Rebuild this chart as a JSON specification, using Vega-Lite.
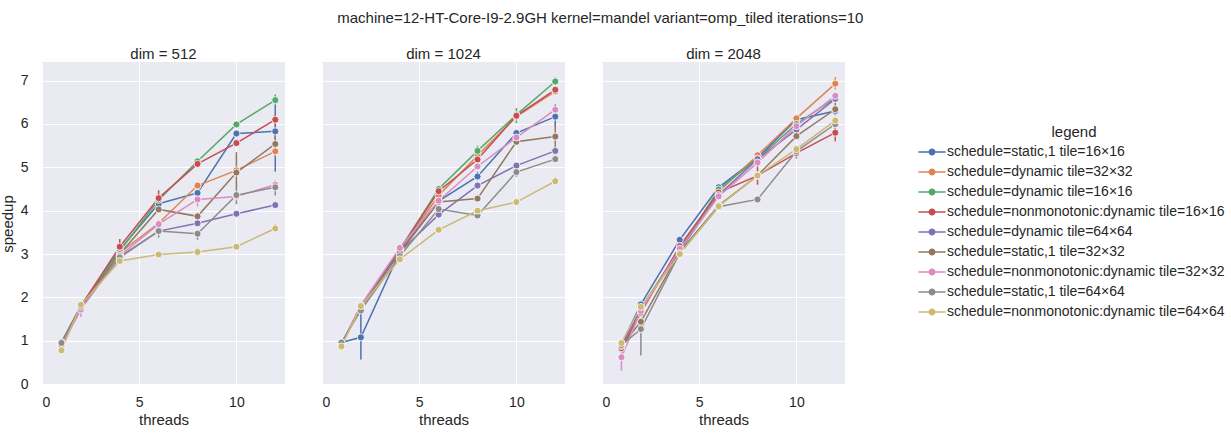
{
  "$schema": "https://vega.github.io/schema/vega-lite/v6.json",
  "autosize": "none",
  "padding": {"left": 42, "top": 62, "right": 1189, "bottom": 371},
  "background": "white",
  "title": {"text": "machine=12-HT-Core-I9-2.9GH kernel=mandel variant=omp_tiled iterations=10", "fontSize": 15, "fontWeight": "normal", "font": "Liberation Sans", "color": "#262626", "anchor": "start", "frame": "bounds", "dx": 337, "offset": 21},
  "datasets": {
    "series": [
      {"k": "A", "legend": "schedule=static,1 tile=16×16"},
      {"k": "B", "legend": "schedule=dynamic tile=32×32"},
      {"k": "C", "legend": "schedule=dynamic tile=16×16"},
      {"k": "D", "legend": "schedule=nonmonotonic:dynamic tile=16×16"},
      {"k": "E", "legend": "schedule=dynamic tile=64×64"},
      {"k": "F", "legend": "schedule=static,1 tile=32×32"},
      {"k": "G", "legend": "schedule=nonmonotonic:dynamic tile=32×32"},
      {"k": "H", "legend": "schedule=static,1 tile=64×64"},
      {"k": "I", "legend": "schedule=nonmonotonic:dynamic tile=64×64"}
    ],
    "pts": [
      {"dim":512,"threads":1,"k":"A","speedup":0.95,"lo":0.9,"hi":1.0},
      {"dim":512,"threads":2,"k":"A","speedup":1.80,"lo":1.75,"hi":1.85},
      {"dim":512,"threads":4,"k":"A","speedup":3.10,"lo":3.05,"hi":3.15},
      {"dim":512,"threads":6,"k":"A","speedup":4.16,"lo":4.1,"hi":4.22},
      {"dim":512,"threads":8,"k":"A","speedup":4.41,"lo":4.35,"hi":4.47},
      {"dim":512,"threads":10,"k":"A","speedup":5.78,"lo":5.7,"hi":5.85},
      {"dim":512,"threads":12,"k":"A","speedup":5.83,"lo":4.9,"hi":6.45},
      {"dim":512,"threads":1,"k":"B","speedup":0.90,"lo":0.85,"hi":0.95},
      {"dim":512,"threads":2,"k":"B","speedup":1.80,"lo":1.75,"hi":1.85},
      {"dim":512,"threads":4,"k":"B","speedup":3.03,"lo":2.98,"hi":3.08},
      {"dim":512,"threads":6,"k":"B","speedup":3.71,"lo":3.66,"hi":3.76},
      {"dim":512,"threads":8,"k":"B","speedup":4.58,"lo":4.53,"hi":4.63},
      {"dim":512,"threads":10,"k":"B","speedup":4.93,"lo":4.85,"hi":5.0},
      {"dim":512,"threads":12,"k":"B","speedup":5.37,"lo":5.25,"hi":5.45},
      {"dim":512,"threads":1,"k":"C","speedup":0.90,"lo":0.85,"hi":0.95},
      {"dim":512,"threads":2,"k":"C","speedup":1.81,"lo":1.76,"hi":1.86},
      {"dim":512,"threads":4,"k":"C","speedup":3.07,"lo":3.02,"hi":3.12},
      {"dim":512,"threads":6,"k":"C","speedup":4.25,"lo":4.2,"hi":4.3},
      {"dim":512,"threads":8,"k":"C","speedup":5.14,"lo":5.08,"hi":5.2},
      {"dim":512,"threads":10,"k":"C","speedup":5.99,"lo":5.93,"hi":6.05},
      {"dim":512,"threads":12,"k":"C","speedup":6.55,"lo":6.45,"hi":6.68},
      {"dim":512,"threads":1,"k":"D","speedup":0.93,"lo":0.88,"hi":0.98},
      {"dim":512,"threads":2,"k":"D","speedup":1.80,"lo":1.75,"hi":1.85},
      {"dim":512,"threads":4,"k":"D","speedup":3.17,"lo":3.05,"hi":3.35},
      {"dim":512,"threads":6,"k":"D","speedup":4.29,"lo":4.1,"hi":4.47},
      {"dim":512,"threads":8,"k":"D","speedup":5.08,"lo":5.03,"hi":5.13},
      {"dim":512,"threads":10,"k":"D","speedup":5.56,"lo":5.51,"hi":5.61},
      {"dim":512,"threads":12,"k":"D","speedup":6.10,"lo":5.95,"hi":6.22},
      {"dim":512,"threads":1,"k":"E","speedup":0.86,"lo":0.81,"hi":0.91},
      {"dim":512,"threads":2,"k":"E","speedup":1.78,"lo":1.73,"hi":1.83},
      {"dim":512,"threads":4,"k":"E","speedup":2.94,"lo":2.89,"hi":2.99},
      {"dim":512,"threads":6,"k":"E","speedup":3.53,"lo":3.48,"hi":3.58},
      {"dim":512,"threads":8,"k":"E","speedup":3.71,"lo":3.66,"hi":3.76},
      {"dim":512,"threads":10,"k":"E","speedup":3.93,"lo":3.88,"hi":3.98},
      {"dim":512,"threads":12,"k":"E","speedup":4.13,"lo":4.08,"hi":4.18},
      {"dim":512,"threads":1,"k":"F","speedup":0.97,"lo":0.92,"hi":1.02},
      {"dim":512,"threads":2,"k":"F","speedup":1.80,"lo":1.75,"hi":1.85},
      {"dim":512,"threads":4,"k":"F","speedup":3.00,"lo":2.95,"hi":3.05},
      {"dim":512,"threads":6,"k":"F","speedup":4.03,"lo":3.95,"hi":4.1},
      {"dim":512,"threads":8,"k":"F","speedup":3.87,"lo":3.82,"hi":3.92},
      {"dim":512,"threads":10,"k":"F","speedup":4.88,"lo":4.5,"hi":5.35},
      {"dim":512,"threads":12,"k":"F","speedup":5.54,"lo":5.3,"hi":5.8},
      {"dim":512,"threads":1,"k":"G","speedup":0.88,"lo":0.83,"hi":0.93},
      {"dim":512,"threads":2,"k":"G","speedup":1.72,"lo":1.55,"hi":1.85},
      {"dim":512,"threads":4,"k":"G","speedup":2.96,"lo":2.91,"hi":3.01},
      {"dim":512,"threads":6,"k":"G","speedup":3.69,"lo":3.6,"hi":3.78},
      {"dim":512,"threads":8,"k":"G","speedup":4.26,"lo":4.1,"hi":4.4},
      {"dim":512,"threads":10,"k":"G","speedup":4.33,"lo":4.28,"hi":4.38},
      {"dim":512,"threads":12,"k":"G","speedup":4.60,"lo":4.5,"hi":4.7},
      {"dim":512,"threads":1,"k":"H","speedup":0.95,"lo":0.9,"hi":1.0},
      {"dim":512,"threads":2,"k":"H","speedup":1.79,"lo":1.74,"hi":1.84},
      {"dim":512,"threads":4,"k":"H","speedup":2.92,"lo":2.87,"hi":2.97},
      {"dim":512,"threads":6,"k":"H","speedup":3.53,"lo":3.38,"hi":3.65},
      {"dim":512,"threads":8,"k":"H","speedup":3.47,"lo":3.33,"hi":3.55},
      {"dim":512,"threads":10,"k":"H","speedup":4.36,"lo":4.15,"hi":4.5},
      {"dim":512,"threads":12,"k":"H","speedup":4.54,"lo":4.35,"hi":4.65},
      {"dim":512,"threads":1,"k":"I","speedup":0.78,"lo":0.73,"hi":0.83},
      {"dim":512,"threads":2,"k":"I","speedup":1.83,"lo":1.78,"hi":1.88},
      {"dim":512,"threads":4,"k":"I","speedup":2.84,"lo":2.79,"hi":2.89},
      {"dim":512,"threads":6,"k":"I","speedup":2.99,"lo":2.94,"hi":3.04},
      {"dim":512,"threads":8,"k":"I","speedup":3.05,"lo":2.95,"hi":3.15},
      {"dim":512,"threads":10,"k":"I","speedup":3.17,"lo":3.12,"hi":3.22},
      {"dim":512,"threads":12,"k":"I","speedup":3.59,"lo":3.5,"hi":3.7},

      {"dim":1024,"threads":1,"k":"A","speedup":0.96,"lo":0.91,"hi":1.01},
      {"dim":1024,"threads":2,"k":"A","speedup":1.08,"lo":0.57,"hi":1.72},
      {"dim":1024,"threads":4,"k":"A","speedup":3.05,"lo":3.0,"hi":3.1},
      {"dim":1024,"threads":6,"k":"A","speedup":4.22,"lo":4.17,"hi":4.27},
      {"dim":1024,"threads":8,"k":"A","speedup":4.79,"lo":4.7,"hi":4.9},
      {"dim":1024,"threads":10,"k":"A","speedup":5.79,"lo":5.72,"hi":5.86},
      {"dim":1024,"threads":12,"k":"A","speedup":6.17,"lo":5.95,"hi":6.45},
      {"dim":1024,"threads":1,"k":"B","speedup":0.92,"lo":0.87,"hi":0.97},
      {"dim":1024,"threads":2,"k":"B","speedup":1.80,"lo":1.75,"hi":1.85},
      {"dim":1024,"threads":4,"k":"B","speedup":3.08,"lo":3.03,"hi":3.13},
      {"dim":1024,"threads":6,"k":"B","speedup":4.35,"lo":4.3,"hi":4.4},
      {"dim":1024,"threads":8,"k":"B","speedup":5.27,"lo":5.22,"hi":5.32},
      {"dim":1024,"threads":10,"k":"B","speedup":6.17,"lo":6.12,"hi":6.22},
      {"dim":1024,"threads":12,"k":"B","speedup":6.75,"lo":6.7,"hi":6.8},
      {"dim":1024,"threads":1,"k":"C","speedup":0.92,"lo":0.87,"hi":0.97},
      {"dim":1024,"threads":2,"k":"C","speedup":1.80,"lo":1.75,"hi":1.85},
      {"dim":1024,"threads":4,"k":"C","speedup":3.10,"lo":3.05,"hi":3.15},
      {"dim":1024,"threads":6,"k":"C","speedup":4.50,"lo":4.45,"hi":4.55},
      {"dim":1024,"threads":8,"k":"C","speedup":5.38,"lo":5.3,"hi":5.5},
      {"dim":1024,"threads":10,"k":"C","speedup":6.21,"lo":6.02,"hi":6.37},
      {"dim":1024,"threads":12,"k":"C","speedup":6.98,"lo":6.9,"hi":7.08},
      {"dim":1024,"threads":1,"k":"D","speedup":0.92,"lo":0.87,"hi":0.97},
      {"dim":1024,"threads":2,"k":"D","speedup":1.80,"lo":1.75,"hi":1.85},
      {"dim":1024,"threads":4,"k":"D","speedup":3.10,"lo":3.05,"hi":3.15},
      {"dim":1024,"threads":6,"k":"D","speedup":4.45,"lo":4.4,"hi":4.5},
      {"dim":1024,"threads":8,"k":"D","speedup":5.18,"lo":5.13,"hi":5.23},
      {"dim":1024,"threads":10,"k":"D","speedup":6.19,"lo":6.14,"hi":6.24},
      {"dim":1024,"threads":12,"k":"D","speedup":6.79,"lo":6.74,"hi":6.84},
      {"dim":1024,"threads":1,"k":"E","speedup":0.92,"lo":0.87,"hi":0.97},
      {"dim":1024,"threads":2,"k":"E","speedup":1.78,"lo":1.73,"hi":1.83},
      {"dim":1024,"threads":4,"k":"E","speedup":3.05,"lo":3.0,"hi":3.1},
      {"dim":1024,"threads":6,"k":"E","speedup":3.91,"lo":3.86,"hi":3.96},
      {"dim":1024,"threads":8,"k":"E","speedup":4.58,"lo":4.53,"hi":4.63},
      {"dim":1024,"threads":10,"k":"E","speedup":5.04,"lo":4.99,"hi":5.09},
      {"dim":1024,"threads":12,"k":"E","speedup":5.38,"lo":5.33,"hi":5.43},
      {"dim":1024,"threads":1,"k":"F","speedup":0.93,"lo":0.88,"hi":0.98},
      {"dim":1024,"threads":2,"k":"F","speedup":1.76,"lo":1.71,"hi":1.81},
      {"dim":1024,"threads":4,"k":"F","speedup":3.03,"lo":2.98,"hi":3.08},
      {"dim":1024,"threads":6,"k":"F","speedup":4.20,"lo":4.15,"hi":4.25},
      {"dim":1024,"threads":8,"k":"F","speedup":4.28,"lo":4.23,"hi":4.33},
      {"dim":1024,"threads":10,"k":"F","speedup":5.59,"lo":5.54,"hi":5.64},
      {"dim":1024,"threads":12,"k":"F","speedup":5.71,"lo":5.4,"hi":6.0},
      {"dim":1024,"threads":1,"k":"G","speedup":0.92,"lo":0.87,"hi":0.97},
      {"dim":1024,"threads":2,"k":"G","speedup":1.82,"lo":1.77,"hi":1.87},
      {"dim":1024,"threads":4,"k":"G","speedup":3.14,"lo":3.09,"hi":3.19},
      {"dim":1024,"threads":6,"k":"G","speedup":4.23,"lo":4.18,"hi":4.28},
      {"dim":1024,"threads":8,"k":"G","speedup":5.02,"lo":4.97,"hi":5.07},
      {"dim":1024,"threads":10,"k":"G","speedup":5.69,"lo":5.64,"hi":5.74},
      {"dim":1024,"threads":12,"k":"G","speedup":6.33,"lo":6.28,"hi":6.38},
      {"dim":1024,"threads":1,"k":"H","speedup":0.96,"lo":0.91,"hi":1.01},
      {"dim":1024,"threads":2,"k":"H","speedup":1.70,"lo":1.6,"hi":1.8},
      {"dim":1024,"threads":4,"k":"H","speedup":2.95,"lo":2.9,"hi":3.0},
      {"dim":1024,"threads":6,"k":"H","speedup":4.04,"lo":3.99,"hi":4.09},
      {"dim":1024,"threads":8,"k":"H","speedup":3.89,"lo":3.84,"hi":3.94},
      {"dim":1024,"threads":10,"k":"H","speedup":4.89,"lo":4.78,"hi":4.98},
      {"dim":1024,"threads":12,"k":"H","speedup":5.19,"lo":5.14,"hi":5.24},
      {"dim":1024,"threads":1,"k":"I","speedup":0.87,"lo":0.82,"hi":0.92},
      {"dim":1024,"threads":2,"k":"I","speedup":1.80,"lo":1.75,"hi":1.85},
      {"dim":1024,"threads":4,"k":"I","speedup":2.88,"lo":2.83,"hi":2.93},
      {"dim":1024,"threads":6,"k":"I","speedup":3.56,"lo":3.51,"hi":3.61},
      {"dim":1024,"threads":8,"k":"I","speedup":4.00,"lo":3.95,"hi":4.05},
      {"dim":1024,"threads":10,"k":"I","speedup":4.20,"lo":4.15,"hi":4.25},
      {"dim":1024,"threads":12,"k":"I","speedup":4.68,"lo":4.6,"hi":4.78},

      {"dim":2048,"threads":1,"k":"A","speedup":0.92,"lo":0.87,"hi":0.97},
      {"dim":2048,"threads":2,"k":"A","speedup":1.84,"lo":1.79,"hi":1.89},
      {"dim":2048,"threads":4,"k":"A","speedup":3.33,"lo":3.28,"hi":3.38},
      {"dim":2048,"threads":6,"k":"A","speedup":4.54,"lo":4.49,"hi":4.59},
      {"dim":2048,"threads":8,"k":"A","speedup":5.22,"lo":5.17,"hi":5.27},
      {"dim":2048,"threads":10,"k":"A","speedup":6.10,"lo":6.05,"hi":6.15},
      {"dim":2048,"threads":12,"k":"A","speedup":6.30,"lo":6.25,"hi":6.35},
      {"dim":2048,"threads":1,"k":"B","speedup":0.90,"lo":0.85,"hi":0.95},
      {"dim":2048,"threads":2,"k":"B","speedup":1.75,"lo":1.7,"hi":1.8},
      {"dim":2048,"threads":4,"k":"B","speedup":3.12,"lo":3.07,"hi":3.17},
      {"dim":2048,"threads":6,"k":"B","speedup":4.44,"lo":4.39,"hi":4.49},
      {"dim":2048,"threads":8,"k":"B","speedup":5.28,"lo":5.2,"hi":5.36},
      {"dim":2048,"threads":10,"k":"B","speedup":6.13,"lo":6.08,"hi":6.18},
      {"dim":2048,"threads":12,"k":"B","speedup":6.93,"lo":6.8,"hi":7.08},
      {"dim":2048,"threads":1,"k":"C","speedup":0.90,"lo":0.85,"hi":0.95},
      {"dim":2048,"threads":2,"k":"C","speedup":1.75,"lo":1.7,"hi":1.8},
      {"dim":2048,"threads":4,"k":"C","speedup":3.10,"lo":3.05,"hi":3.15},
      {"dim":2048,"threads":6,"k":"C","speedup":4.49,"lo":4.44,"hi":4.54},
      {"dim":2048,"threads":8,"k":"C","speedup":5.20,"lo":5.15,"hi":5.25},
      {"dim":2048,"threads":10,"k":"C","speedup":6.00,"lo":5.95,"hi":6.05},
      {"dim":2048,"threads":12,"k":"C","speedup":6.60,"lo":6.55,"hi":6.65},
      {"dim":2048,"threads":1,"k":"D","speedup":0.83,"lo":0.75,"hi":0.92},
      {"dim":2048,"threads":2,"k":"D","speedup":1.65,"lo":1.6,"hi":1.7},
      {"dim":2048,"threads":4,"k":"D","speedup":3.18,"lo":3.13,"hi":3.23},
      {"dim":2048,"threads":6,"k":"D","speedup":4.42,"lo":4.37,"hi":4.47},
      {"dim":2048,"threads":8,"k":"D","speedup":4.81,"lo":4.6,"hi":5.05},
      {"dim":2048,"threads":10,"k":"D","speedup":5.33,"lo":5.25,"hi":5.42},
      {"dim":2048,"threads":12,"k":"D","speedup":5.80,"lo":5.6,"hi":5.95},
      {"dim":2048,"threads":1,"k":"E","speedup":0.90,"lo":0.85,"hi":0.95},
      {"dim":2048,"threads":2,"k":"E","speedup":1.72,"lo":1.67,"hi":1.77},
      {"dim":2048,"threads":4,"k":"E","speedup":3.08,"lo":3.03,"hi":3.13},
      {"dim":2048,"threads":6,"k":"E","speedup":4.36,"lo":4.31,"hi":4.41},
      {"dim":2048,"threads":8,"k":"E","speedup":5.19,"lo":5.14,"hi":5.24},
      {"dim":2048,"threads":10,"k":"E","speedup":5.87,"lo":5.82,"hi":5.92},
      {"dim":2048,"threads":12,"k":"E","speedup":6.58,"lo":6.53,"hi":6.63},
      {"dim":2048,"threads":1,"k":"F","speedup":0.88,"lo":0.83,"hi":0.93},
      {"dim":2048,"threads":2,"k":"F","speedup":1.44,"lo":1.38,"hi":1.5},
      {"dim":2048,"threads":4,"k":"F","speedup":3.05,"lo":3.0,"hi":3.1},
      {"dim":2048,"threads":6,"k":"F","speedup":4.12,"lo":4.07,"hi":4.17},
      {"dim":2048,"threads":8,"k":"F","speedup":4.81,"lo":4.76,"hi":4.86},
      {"dim":2048,"threads":10,"k":"F","speedup":5.72,"lo":5.67,"hi":5.77},
      {"dim":2048,"threads":12,"k":"F","speedup":6.34,"lo":6.2,"hi":6.5},
      {"dim":2048,"threads":1,"k":"G","speedup":0.62,"lo":0.31,"hi":0.85},
      {"dim":2048,"threads":2,"k":"G","speedup":1.69,"lo":1.6,"hi":1.78},
      {"dim":2048,"threads":4,"k":"G","speedup":3.12,"lo":3.07,"hi":3.17},
      {"dim":2048,"threads":6,"k":"G","speedup":4.33,"lo":4.28,"hi":4.38},
      {"dim":2048,"threads":8,"k":"G","speedup":5.11,"lo":5.06,"hi":5.16},
      {"dim":2048,"threads":10,"k":"G","speedup":5.95,"lo":5.9,"hi":6.0},
      {"dim":2048,"threads":12,"k":"G","speedup":6.65,"lo":6.6,"hi":6.7},
      {"dim":2048,"threads":1,"k":"H","speedup":0.90,"lo":0.85,"hi":0.95},
      {"dim":2048,"threads":2,"k":"H","speedup":1.27,"lo":0.66,"hi":1.5},
      {"dim":2048,"threads":4,"k":"H","speedup":3.02,"lo":2.97,"hi":3.07},
      {"dim":2048,"threads":6,"k":"H","speedup":4.09,"lo":4.04,"hi":4.14},
      {"dim":2048,"threads":8,"k":"H","speedup":4.26,"lo":4.21,"hi":4.31},
      {"dim":2048,"threads":10,"k":"H","speedup":5.37,"lo":5.2,"hi":5.5},
      {"dim":2048,"threads":12,"k":"H","speedup":6.00,"lo":5.85,"hi":6.15},
      {"dim":2048,"threads":1,"k":"I","speedup":0.95,"lo":0.9,"hi":1.0},
      {"dim":2048,"threads":2,"k":"I","speedup":1.78,"lo":1.73,"hi":1.83},
      {"dim":2048,"threads":4,"k":"I","speedup":3.00,"lo":2.95,"hi":3.05},
      {"dim":2048,"threads":6,"k":"I","speedup":4.10,"lo":4.05,"hi":4.15},
      {"dim":2048,"threads":8,"k":"I","speedup":4.81,"lo":4.76,"hi":4.86},
      {"dim":2048,"threads":10,"k":"I","speedup":5.42,"lo":5.37,"hi":5.47},
      {"dim":2048,"threads":12,"k":"I","speedup":6.08,"lo":6.03,"hi":6.13}
    ]
  },
  "data": {"name": "pts"},
  "transform": [
    {"lookup": "k", "from": {"data": {"name": "series"}, "key": "k", "fields": ["legend"]}}
  ],
  "facet": {
    "column": {
      "field": "dim", "type": "ordinal",
      "header": {"title": null, "labelExpr": "'dim = ' + datum.value", "labelFontSize": 15, "labelFont": "Liberation Sans", "labelColor": "#262626", "labelPadding": 0}
    }
  },
  "spacing": 37,
  "spec": {
    "width": 243,
    "height": 323,
    "encoding": {
      "x": {"field": "threads", "type": "quantitative", "title": "threads",
        "scale": {"domain": [0, 12.5], "nice": false, "zero": false},
        "axis": {"values": [0, 5, 10], "labelPadding": 10, "titlePadding": 3}},
      "color": {"field": "legend", "type": "nominal", "title": "legend",
        "scale": {
          "domain": ["schedule=static,1 tile=16×16", "schedule=dynamic tile=32×32", "schedule=dynamic tile=16×16", "schedule=nonmonotonic:dynamic tile=16×16", "schedule=dynamic tile=64×64", "schedule=static,1 tile=32×32", "schedule=nonmonotonic:dynamic tile=32×32", "schedule=static,1 tile=64×64", "schedule=nonmonotonic:dynamic tile=64×64"],
          "range": ["#4c72b0", "#dd8452", "#55a868", "#c44e52", "#8172b3", "#937860", "#da8bc3", "#8c8c8c", "#ccb974"]
        },
        "legend": {
          "orient": "none", "legendX": 881, "legendY": 63,
          "padding": 0,
          "titleFontSize": 15, "titleFontWeight": "normal", "titleFont": "Liberation Sans", "titleColor": "#262626",
          "titleAnchor": "middle", "titleAlign": "center", "titlePadding": 3,
          "labelFontSize": 14, "labelFont": "Liberation Sans", "labelColor": "#262626", "labelOffset": 6, "labelLimit": 400,
          "symbolType": "M-1.7,0L1.7,0M0.34,0A0.34,0.34,0,1,1,-0.34,0A0.34,0.34,0,1,1,0.34,0",
          "symbolSize": 256, "symbolStrokeWidth": 1.5, "rowPadding": 4, "symbolOpacity": 1,
          "encode": {"symbols": {"update": {"stroke": {"scale": "color", "field": "value"}, "fill": {"scale": "color", "field": "value"}, "strokeWidth": {"value": 1.5}, "opacity": {"value": 1}}}}
        }
      }
    },
    "layer": [
      {
        "mark": {"type": "rule", "strokeWidth": 1.5},
        "encoding": {
          "y": {"field": "lo", "type": "quantitative"},
          "y2": {"field": "hi"}
        }
      },
      {
        "mark": {"type": "line", "strokeWidth": 1.5},
        "encoding": {
          "y": {"field": "speedup", "type": "quantitative", "title": "speedup",
            "scale": {"domain": [-0.02, 7.43], "nice": false, "zero": false},
            "axis": {"values": [0, 1, 2, 3, 4, 5, 6, 7], "labelPadding": 14, "titlePadding": 5}}
        }
      },
      {
        "mark": {"type": "point", "filled": true, "size": 50, "stroke": "white", "strokeWidth": 0.8, "opacity": 1},
        "encoding": {
          "y": {"field": "speedup", "type": "quantitative"}
        }
      }
    ]
  },
  "config": {
    "view": {"fill": "#eaeaf2", "stroke": null},
    "axis": {"domain": false, "ticks": false, "gridColor": "white", "gridWidth": 1, "gridOpacity": 1,
      "labelFontSize": 14, "labelFont": "Liberation Sans", "labelColor": "#262626",
      "titleFontSize": 15, "titleFont": "Liberation Sans", "titleFontWeight": "normal", "titleColor": "#262626"}
  }
}
